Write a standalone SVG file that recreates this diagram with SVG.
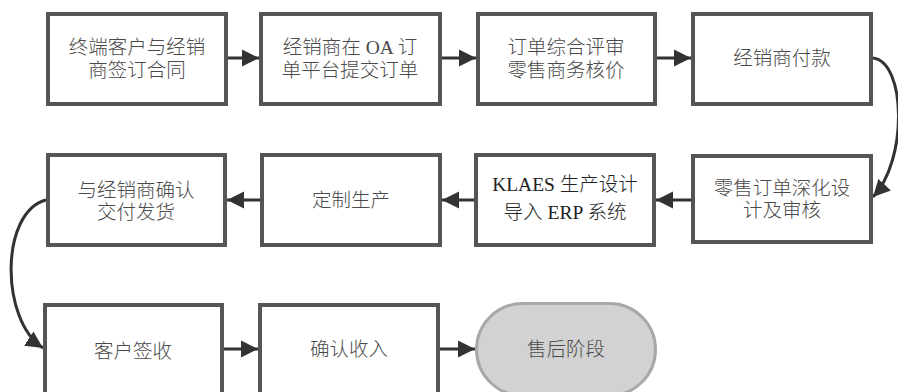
<svg xmlns="http://www.w3.org/2000/svg" width="898" height="392" viewBox="0 0 898 392">
<style>
.box{fill:#fff;stroke:#555;stroke-width:4}
.pill{fill:#d2d2d2;stroke:#a8a8a8;stroke-width:3}
.t{font-family:"Liberation Serif","Noto Sans CJK SC",serif;font-size:19.5px;font-weight:300;fill:#4a4a4a;text-anchor:middle;dominant-baseline:central}
.k{fill:#222}
.l{font-weight:400}
.c{fill:none;stroke:#333;stroke-width:3;marker-end:url(#ah)}
</style>
<defs>
<marker id="ah" viewBox="0 0 10 10" refX="10" refY="5" markerUnits="userSpaceOnUse" markerWidth="17" markerHeight="18" orient="auto">
<path d="M0,0 L10,5 L0,10 z" fill="#333"/>
</marker>
</defs>
<rect width="898" height="392" fill="#fff"/>
<g id="connectors">
<path class="c" d="M228,58 H259"/>
<path class="c" d="M442,58 H476"/>
<path class="c" d="M657,58 H691"/>
<path class="c" d="M873,58 C906,62 908,160 873,197"/>
<path class="c" d="M691,200 H656"/>
<path class="c" d="M474,200 H442"/>
<path class="c" d="M260,200 H227"/>
<path class="c" d="M46,200 C0,212 0,320 43,348"/>
<path class="c" d="M224,349 H258"/>
<path class="c" d="M440,349 H475"/>
</g>
<g id="n1"><rect class="box" x="48" y="14" width="178" height="90"/><text class="t" x="137" y="47">终端客户与经销</text><text class="t" x="137" y="70">商签订合同</text></g>
<g id="n2"><rect class="box" x="261" y="14" width="179" height="90"/><text class="t" x="350" y="47">经销商在<tspan class="l"> OA </tspan>订</text><text class="t" x="350" y="70">单平台提交订单</text></g>
<g id="n3"><rect class="box" x="478" y="14" width="177" height="90"/><text class="t" x="566" y="47">订单综合评审</text><text class="t" x="566" y="70">零售商务核价</text></g>
<g id="n4"><rect class="box" x="693" y="14" width="178" height="90"/><text class="t" x="782" y="58">经销商付款</text></g>
<g id="n5"><rect class="box" x="693" y="156" width="178" height="86"/><text class="t" x="782" y="188">零售订单深化设</text><text class="t" x="782" y="210">计及审核</text></g>
<g id="n6"><rect class="box" x="476" y="155" width="178" height="90"/><text class="t k" x="565" y="184"><tspan class="l">KLAES </tspan>生产设计</text><text class="t k" x="565" y="212">导入<tspan class="l"> ERP </tspan>系统</text></g>
<g id="n7"><rect class="box" x="262" y="155" width="178" height="90"/><text class="t" x="351" y="200">定制生产</text></g>
<g id="n8"><rect class="box" x="48" y="155" width="177" height="90"/><text class="t" x="136" y="190">与经销商确认</text><text class="t" x="136" y="212">交付发货</text></g>
<g id="n9"><rect class="box" x="45" y="305" width="177" height="92"/><text class="t" x="133" y="351">客户签收</text></g>
<g id="n10"><rect class="box" x="260" y="305" width="178" height="92"/><text class="t" x="349" y="349">确认收入</text></g>
<g id="n11"><rect class="pill" x="476.5" y="303.5" width="179" height="92" rx="46" ry="46"/><text class="t" x="566" y="349">售后阶段</text></g>
</svg>
